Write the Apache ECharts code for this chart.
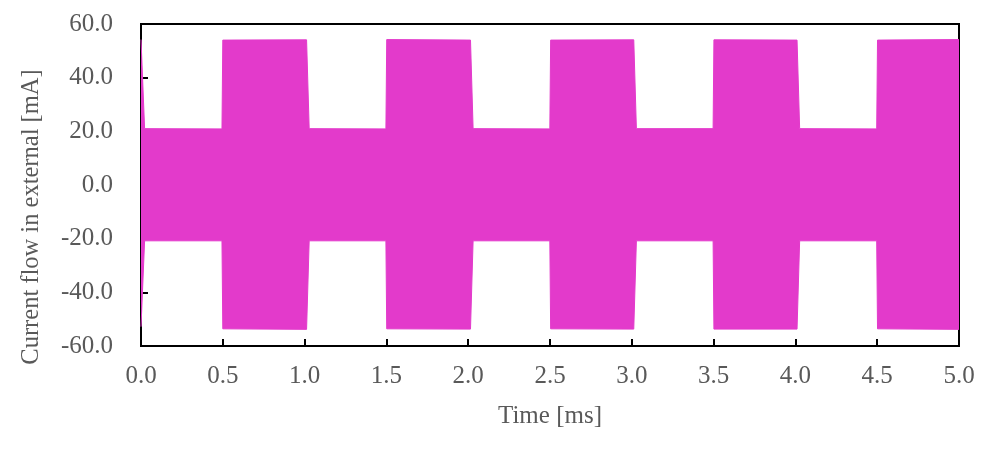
<!DOCTYPE html>
<html>
<head>
<meta charset="utf-8">
<script src="https://cdn.jsdelivr.net/npm/echarts@6/dist/echarts.min.js"></script>
<style>html,body{margin:0;padding:0;background:#fff;}#c{width:1001px;height:450px;}</style>
</head>
<body>
<div id="c"></div>
<script>
// Envelope of the fast oscillating current (time in ms, current in mA)
const timeMs = [0, 0.012, 0.022, 0.495, 0.500, 1.012, 1.028, 1.497, 1.502, 2.014, 2.030, 2.499, 2.504, 3.012, 3.028, 3.497, 3.502, 4.010, 4.026, 4.497, 4.502, 5.0];
const upperEnv = [54.2, 54.0, 21.0, 20.9, 54.0, 54.1, 21.0, 20.9, 54.2, 54.0, 21.0, 20.9, 54.0, 54.1, 21.0, 21.0, 54.1, 54.0, 21.0, 20.9, 54.0, 54.2];
const lowerEnv = [-52.8, -52.8, -20.8, -20.8, -53.6, -53.8, -20.8, -20.8, -53.6, -53.7, -20.8, -20.8, -53.6, -53.7, -20.8, -20.8, -53.7, -53.7, -20.8, -20.8, -53.6, -53.8];
const xTicks = [0, 0.5, 1, 1.5, 2, 2.5, 3, 3.5, 4, 4.5, 5];
const yTicks = [-60, -40, -20, 0, 20, 40, 60];

const color = '#E33ACB';
const font = 'Liberation Serif';
const txt = '#595959';

const chart = echarts.init(document.getElementById('c'));
chart.setOption({
  animation: false,
  backgroundColor: '#fff',
  grid: {left: 141, right: 42, top: 24, bottom: 104, show: true, borderColor: '#000', borderWidth: 2, backgroundColor: 'transparent'},
  xAxis: {
    type: 'value', min: xTicks[0], max: xTicks[xTicks.length - 1], interval: 0.5,
    name: 'Time [ms]', nameLocation: 'middle', nameGap: 58,
    nameTextStyle: {fontFamily: font, fontSize: 25, color: txt},
    axisLine: {show: true, onZero: false, lineStyle: {color: '#000', width: 2}},
    axisTick: {show: true, inside: true, length: 7, lineStyle: {color: '#000', width: 2}},
    axisLabel: {margin: 18, fontFamily: font, fontSize: 25, color: txt, formatter: v => v.toFixed(1)},
    splitLine: {show: false}
  },
  yAxis: {
    type: 'value', min: yTicks[0], max: yTicks[yTicks.length - 1], interval: 20,
    name: 'Current flow in external [mA]', nameLocation: 'middle', nameGap: 97,
    nameTextStyle: {fontFamily: font, fontSize: 24.5, color: txt, padding: [0, 64, 0, 0]},
    axisLine: {show: true, onZero: false, lineStyle: {color: '#000', width: 2}},
    axisTick: {show: true, inside: true, length: 7, lineStyle: {color: '#000', width: 2}},
    axisLabel: {margin: 28, fontFamily: font, fontSize: 25, color: txt, formatter: v => v.toFixed(1)},
    splitLine: {show: false}
  },
  series: [
    {type: 'line', data: timeMs.map((t, i) => [t, upperEnv[i]]), showSymbol: false, silent: true,
     lineStyle: {color: color, width: 1}, itemStyle: {color: color}, areaStyle: {color: color, opacity: 1, origin: 0}},
    {type: 'line', data: timeMs.map((t, i) => [t, lowerEnv[i]]), showSymbol: false, silent: true,
     lineStyle: {color: color, width: 1}, itemStyle: {color: color}, areaStyle: {color: color, opacity: 1, origin: 0}}
  ]
});
</script>
</body>
</html>
